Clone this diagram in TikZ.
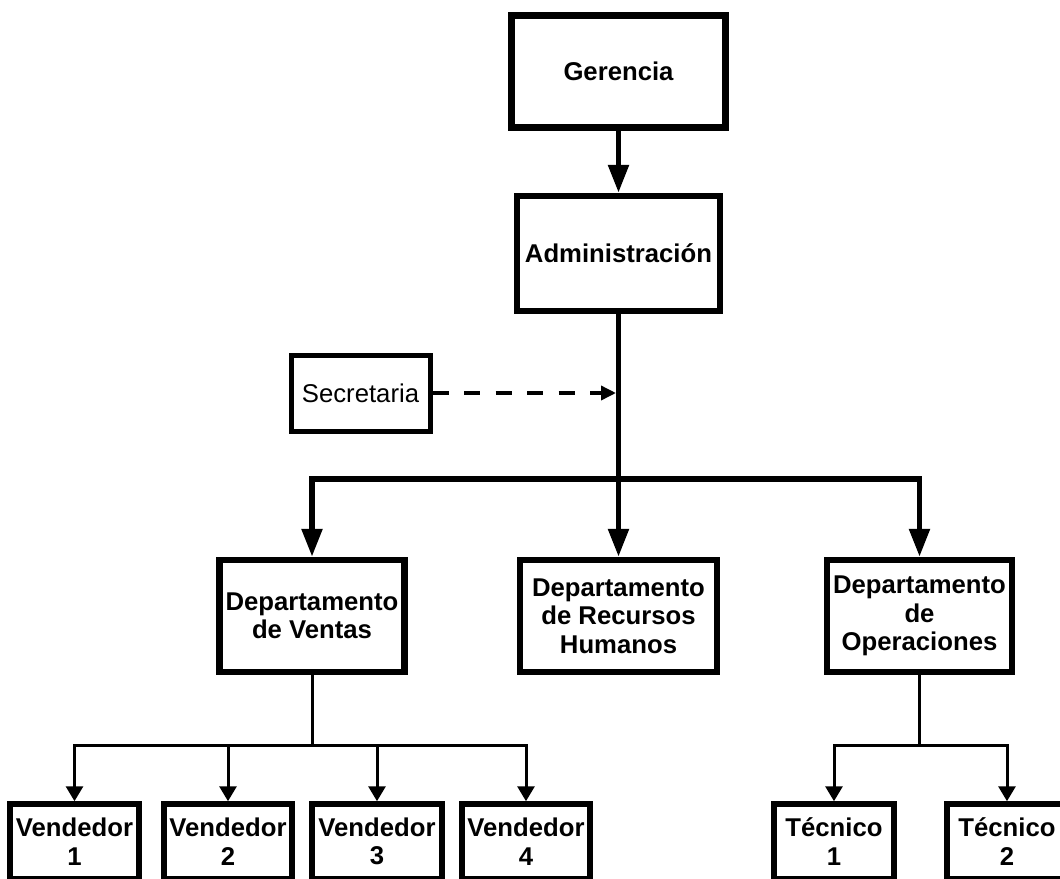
\documentclass[tikz,border=0pt]{standalone}
\usepackage{fontspec}
\setmainfont{Liberation Sans}
\usetikzlibrary{arrows.meta}
\newcommand\bxfont{\fontsize{25.7}{28.5}\selectfont\bfseries}
\newcommand\rgfont{\fontsize{25.7}{28.5}\selectfont}
\begin{document}
\begin{tikzpicture}[x=1pt,y=-1pt,
  box/.style={draw, line width=6.5pt, inner sep=0pt, align=center, font=\bxfont},
  smallbox/.style={box, line width=5.5pt, minimum height=75pt},
  thickc/.style={line width=5.5pt},
  thinc/.style={line width=3pt},
  bigarrow/.style={-{Triangle[length=28pt,width=20pt]}},
  smallarrow/.style={-{Triangle[length=15pt,width=17pt]}},
  dasharrow/.style={-{Triangle[length=15pt,width=14pt]}}
]
\useasboundingbox (0,0) rectangle (1060,878);
\clip (0,0) rectangle (1060,878);

% top level
\node[box, line width=7pt, minimum width=214pt, minimum height=112pt] (ger) at (618.5,71) {Gerencia};
\node[box, minimum width=203pt, minimum height=115pt] (adm) at (618.5,253.5) {Administración};
\node[draw, line width=5pt, inner sep=0pt, font=\rgfont, minimum width=139pt, minimum height=76pt] (sec) at (360.5,393) {Secretaria};

% departments
\node[box, minimum width=185pt, minimum height=112pt] (ven) at (312,616) {Departamento\\de Ventas};
\node[box, minimum width=197pt, minimum height=112pt] (rrh) at (618.5,616) {Departamento\\de Recursos\\Humanos};
\node[box, minimum width=185pt, minimum height=112pt] (ops) at (919.5,616) {Departamento\\de\\Operaciones};

% sellers
\node[smallbox, minimum width=129pt] (v1) at (74.5,841.5) {Vendedor\\1};
\node[smallbox, minimum width=128pt] (v2) at (228,841.5) {Vendedor\\2};
\node[smallbox, minimum width=130pt] (v3) at (377,841.5) {Vendedor\\3};
\node[smallbox, minimum width=128pt] (v4) at (526,841.5) {Vendedor\\4};

% technicians
\node[smallbox, minimum width=120pt] (t1) at (834,841.5) {Técnico\\1};
\node[smallbox, minimum width=120pt] (t2) at (1007,841.5) {Técnico\\2};

% helper coordinates
\coordinate (bus) at (618.5,479);
\coordinate (sj) at (616,393);
\coordinate (vb) at (312,745);
\coordinate (ob) at (919.5,745);

% connectors
\draw[thickc, bigarrow] (ger) -- (adm);
\draw[thickc, bigarrow] (adm) -- (rrh);
\draw[thickc, bigarrow] (bus) -| (ven.north);
\draw[thickc, bigarrow] (bus) -| (ops.north);
\draw[line width=3.5pt, dash pattern=on 16pt off 15.5pt, dasharrow] (sec.east) -- (sj);

\draw[thinc] (ven) -- (vb);
\draw[thinc, smallarrow] (vb) -| (v1.north);
\draw[thinc, smallarrow] (vb) -| (v2.north);
\draw[thinc, smallarrow] (vb) -| (v3.north);
\draw[thinc, smallarrow] (vb) -| (v4.north);

\draw[thinc] (ops) -- (ob);
\draw[thinc, smallarrow] (ob) -| (t1.north);
\draw[thinc, smallarrow] (ob) -| (t2.north);
\end{tikzpicture}
\end{document}
